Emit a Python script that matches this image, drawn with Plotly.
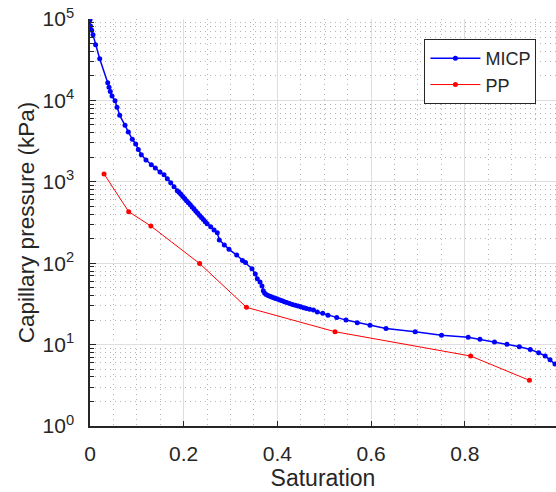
import plotly.graph_objects as go

# MICP data (saturation, capillary pressure kPa)
micp_sat = [0.0, 0.001, 0.0036, 0.0064, 0.012, 0.0207, 0.0378, 0.0406, 0.0433, 0.047,
            0.0534, 0.0576, 0.0634, 0.0747, 0.0818, 0.0903, 0.0975, 0.1031, 0.1095, 0.1195,
            0.1308, 0.1394, 0.1494, 0.158, 0.165, 0.1723, 0.1793, 0.1863,
            0.190, 0.194, 0.198, 0.202, 0.206, 0.210, 0.214, 0.218, 0.222, 0.226,
            0.230, 0.234, 0.238, 0.242, 0.246, 0.250,
            0.2576, 0.2647, 0.2717, 0.276, 0.2867, 0.2967, 0.3131, 0.3255, 0.3319, 0.3458,
            0.3528, 0.3571, 0.3629, 0.3671, 0.3699, 0.3729,
            0.376, 0.380, 0.384, 0.388, 0.392, 0.396, 0.400, 0.405, 0.410, 0.415,
            0.420, 0.426, 0.432, 0.438, 0.444, 0.450, 0.456, 0.462, 0.469, 0.477,
            0.4852, 0.4967, 0.508, 0.5266, 0.5464, 0.5705, 0.5977, 0.6318, 0.6941, 0.7503,
            0.8073, 0.8324, 0.8634, 0.890, 0.9164, 0.9398, 0.9577, 0.9716, 0.9819, 0.9925, 1.0]
micp_pc = [98000, 82000, 73000, 64000, 48300, 32500, 16500, 14500, 12900, 11300,
           9900, 8220, 6560, 4940, 4090, 3330, 2910, 2500, 2150, 1850,
           1620, 1478, 1320, 1222, 1091, 975, 871, 778,
           745, 701, 661, 622, 586, 553, 521, 491, 462, 436,
           410, 386, 365, 344, 324, 305,
           281, 256, 237, 193, 167, 148, 126, 108, 102, 85.5,
           73.6, 64.5, 58.8, 52.5, 45.9, 42.7,
           41.3, 40.2, 39.4, 38.5, 37.6, 36.9, 36.3, 35.4, 34.5, 33.6,
           32.8, 31.9, 31.1, 30.5, 29.8, 29.1, 28.4, 27.8, 27.2, 26.6,
           25.1, 24.2, 22.9, 21.6, 20.0, 18.6, 17.3, 15.8, 14.4, 13.0,
           12.3, 11.6, 10.8, 10.1, 9.43, 8.71, 7.96, 7.25, 6.53, 5.78, 5.3]

# PP data
pp_sat = [0.030, 0.0826, 0.130, 0.234, 0.334, 0.523, 0.8125, 0.938]
pp_pc = [1250, 430, 286, 99, 28.7, 14.4, 7.24, 3.64]

y_tickvals = [1, 10, 100, 1000, 10000, 100000]
y_ticktext = ["10<sup>0</sup>", "10<sup>1</sup>", "10<sup>2</sup>",
              "10<sup>3</sup>", "10<sup>4</sup>", "10<sup>5</sup>"]
x_tickvals = [0, 0.2, 0.4, 0.6, 0.8]
x_ticktext = ["0", "0.2", "0.4", "0.6", "0.8"]

y_minor = [m * 10 ** d for d in range(0, 5) for m in range(2, 10)]

FONT = "Liberation Sans, Arial, Helvetica, sans-serif"
TXT = "#262626"
X_MAX = 0.9947

fig = go.Figure()
fig.add_trace(go.Scatter(x=micp_sat, y=micp_pc, mode="lines+markers", name="MICP",
                         line=dict(color="#0000ff", width=1.5),
                         marker=dict(color="#0000ff", size=5)))
fig.add_trace(go.Scatter(x=pp_sat, y=pp_pc, mode="lines+markers", name="PP",
                         line=dict(color="#ff0000", width=1),
                         marker=dict(color="#ff0000", size=5)))

fig.update_layout(
    width=556, height=492,
    margin=dict(l=90, r=0, t=19, b=66),
    paper_bgcolor="white", plot_bgcolor="white",
    font=dict(family=FONT, color=TXT, size=20),
    showlegend=True,
    legend=dict(x=0.958, y=0.951, xanchor="right", yanchor="top",
                bgcolor="white", bordercolor=TXT, borderwidth=1,
                font=dict(size=18, color=TXT, family=FONT),
                itemwidth=50, tracegroupgap=0),
    xaxis=dict(range=[0, X_MAX], tickvals=x_tickvals, ticktext=x_ticktext,
               ticks="inside", ticklen=5, tickcolor=TXT, tickwidth=1,
               showline=True, linecolor=TXT, linewidth=1.5,
               showgrid=True, gridcolor="#dedede", gridwidth=1,
               zeroline=False, ticklabelstandoff=8, automargin=False,
               tickfont=dict(size=21, color=TXT),
               minor=dict(dtick=0.05, tick0=0, showgrid=True, gridcolor="#b4b4b4",
                          griddash="1px,4px", gridwidth=1, ticks=""),
               title=dict(text="Saturation", font=dict(size=23, color=TXT), standoff=6)),
    yaxis=dict(type="log", range=[0, 5], tickvals=y_tickvals, ticktext=y_ticktext,
               ticks="inside", ticklen=6, tickcolor=TXT, tickwidth=1,
               showline=True, linecolor=TXT, linewidth=1.5,
               showgrid=True, gridcolor="#dedede", gridwidth=1,
               zeroline=False, ticklabelstandoff=10, automargin=False,
               tickfont=dict(size=21, color=TXT),
               minor=dict(tickvals=y_minor, showgrid=True, gridcolor="#b4b4b4",
                          griddash="1px,4px", gridwidth=1, ticks="inside", ticklen=4,
                          tickcolor=TXT),
               title=dict(text="Capillary pressure (kPa)", font=dict(size=22.5, color=TXT),
                          standoff=2)),
)

# partially visible "1" tick label at the clipped right edge
fig.add_annotation(x=1.0 / X_MAX, xref="paper", y=0, yref="paper", yanchor="top",
                   xanchor="left", xshift=-5, yshift=-12, text="1", showarrow=False,
                   font=dict(size=21, color=TXT, family=FONT))

fig.write_html("out.html", config={"displayModeBar": False},
               post_script="document.body.style.margin='0';document.body.style.overflow='hidden';")
